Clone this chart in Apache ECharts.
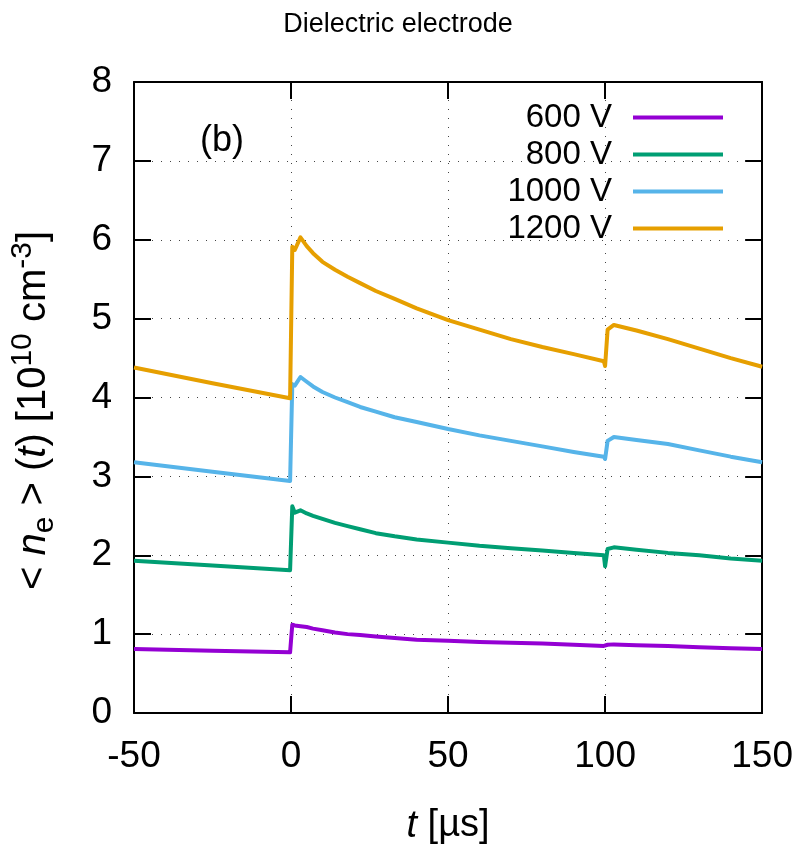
<!DOCTYPE html>
<html>
<head>
<meta charset="utf-8">
<script src="https://cdn.jsdelivr.net/npm/echarts@6/dist/echarts.min.js"></script>
<style>
  html, body { margin: 0; padding: 0; background: #fff; }
  #chart { width: 796px; height: 850px; }
</style>
</head>
<body>
<div id="chart"></div>
<script>
// time axis, in µs
const times = [-50, -25, -0.3, 0.4, 1.2, 3, 5, 7, 10, 14, 18, 22, 27, 33, 40, 50, 60, 70, 80, 90, 99.6, 100, 100.8, 102.8, 110, 120, 130, 140, 150];

// <n_e>(t) in 1e10 cm^-3
const v600  = [0.81, 0.79, 0.77, 1.12, 1.11, 1.10, 1.09, 1.07, 1.05, 1.02, 1.00, 0.99, 0.97, 0.95, 0.93, 0.915, 0.90, 0.89, 0.88, 0.865, 0.85, 0.84, 0.865, 0.87, 0.86, 0.85, 0.835, 0.82, 0.81];
const v800  = [1.93, 1.87, 1.81, 2.62, 2.54, 2.57, 2.53, 2.50, 2.46, 2.41, 2.37, 2.33, 2.28, 2.24, 2.20, 2.16, 2.12, 2.09, 2.06, 2.03, 2.00, 1.86, 2.08, 2.10, 2.07, 2.03, 2.00, 1.96, 1.93];
const v1000 = [3.18, 3.06, 2.94, 4.17, 4.15, 4.26, 4.20, 4.14, 4.07, 4.00, 3.94, 3.88, 3.82, 3.75, 3.69, 3.60, 3.52, 3.45, 3.38, 3.31, 3.25, 3.22, 3.45, 3.50, 3.46, 3.41, 3.33, 3.25, 3.18];
const v1200 = [4.38, 4.18, 3.99, 5.91, 5.87, 6.03, 5.92, 5.83, 5.72, 5.62, 5.53, 5.45, 5.35, 5.25, 5.13, 4.98, 4.86, 4.74, 4.64, 4.55, 4.46, 4.40, 4.86, 4.92, 4.85, 4.74, 4.62, 4.50, 4.39];

const seriesNames = ['600 V', '800 V', '1000 V', '1200 V'];
const seriesColors = ['#9400d3', '#009e73', '#56b4e9', '#e69f00'];
const seriesValues = [v600, v800, v1000, v1200];

const xTicks = [-50, 0, 50, 100, 150];
const yTicks = [0, 1, 2, 3, 4, 5, 6, 7, 8];

const font = 'Liberation Sans';
const tickFs = 37;
const nameFs = 38;
const yNameFs = 40;
const legendFs = 33;
let chart = echarts.init(document.getElementById('chart'), null, {renderer: 'canvas'});

function zip(xs, ys) {
  return xs.map((x, i) => [x, ys[i]]);
}

const gridLine = {
  show: true,
  lineStyle: { color: '#444', width: 1, type: [1, 8] }
};

// one legend per entry so the icons line up on the right
const legendTops = [101, 138, 175, 212];
const legends = seriesNames.map((name, i) => ({
  data: [name],
  orient: 'vertical',
  align: 'right',
  right: 73,
  top: legendTops[i],
  padding: 0,
  icon: 'rect',
  itemWidth: 90,
  itemHeight: 4,
  selectedMode: false,
  textStyle: { fontSize: legendFs, color: '#000', fontFamily: font, padding: [0, 16, 0, 0] }
}));

let option = {
  animation: false,
  backgroundColor: '#fff',
  title: [
    {
      text: 'Dielectric electrode',
      left: 'center',
      top: 6,
      textStyle: { fontSize: 27, fontWeight: 'normal', color: '#000', fontFamily: font }
    },
    {
      text: '(b)',
      left: 195,
      top: 118,
      textStyle: { fontSize: 36, fontWeight: 'normal', color: '#000', fontFamily: font }
    }
  ],
  legend: legends,
  grid: { left: 133, right: 32, top: 82, bottom: 136 },
  xAxis: [
    {
      type: 'value',
      min: xTicks[0],
      max: xTicks[xTicks.length - 1],
      interval: 50,
      position: 'bottom',
      name: '{i|t} [µs]',
      nameLocation: 'middle',
      nameGap: 94,
      nameTextStyle: {
        fontSize: nameFs, color: '#000', fontFamily: font,
        rich: { i: { fontSize: nameFs, fontStyle: 'italic', fontFamily: font, color: '#000' } }
      },
      axisLine: { show: true, onZero: false, lineStyle: { color: '#000', width: 2 } },
      axisTick: { show: true, inside: true, length: 17, lineStyle: { color: '#000', width: 2 } },
      axisLabel: { fontSize: tickFs, color: '#000', fontFamily: font, margin: 25 },
      splitLine: gridLine
    },
    {
      type: 'value',
      min: xTicks[0],
      max: xTicks[xTicks.length - 1],
      interval: 50,
      position: 'top',
      axisLine: { show: true, onZero: false, lineStyle: { color: '#000', width: 2 } },
      axisTick: { show: true, inside: true, length: 17, lineStyle: { color: '#000', width: 2 } },
      axisLabel: { show: false },
      splitLine: { show: false }
    }
  ],
  yAxis: [
    {
      type: 'value',
      min: yTicks[0],
      max: yTicks[yTicks.length - 1],
      interval: 1,
      position: 'left',
      name: '< {i|n}{sub|e} > ({i|t}) [10{sup|10} cm{sup|-3}]',
      nameLocation: 'middle',
      nameRotate: 90,
      nameGap: 74,
      nameTextStyle: {
        fontSize: yNameFs, color: '#000', fontFamily: font, lineHeight: 52,
        padding: [0, 26, 0, 0],
        rich: {
          i: { fontSize: yNameFs, fontStyle: 'italic', fontFamily: font, color: '#000', lineHeight: 52 },
          sub: { fontSize: 30, fontFamily: font, color: '#000', verticalAlign: 'bottom', lineHeight: 52 },
          sup: { fontSize: 30, fontFamily: font, color: '#000', verticalAlign: 'top', lineHeight: 52 }
        }
      },
      axisLine: { show: true, onZero: false, lineStyle: { color: '#000', width: 2 } },
      axisTick: { show: true, inside: true, length: 17, lineStyle: { color: '#000', width: 2 } },
      axisLabel: { fontSize: tickFs, color: '#000', fontFamily: font, margin: 22 },
      splitLine: gridLine
    },
    {
      type: 'value',
      min: yTicks[0],
      max: yTicks[yTicks.length - 1],
      interval: 1,
      position: 'right',
      axisLine: { show: true, onZero: false, lineStyle: { color: '#000', width: 2 } },
      axisTick: { show: true, inside: true, length: 17, lineStyle: { color: '#000', width: 2 } },
      axisLabel: { show: false },
      splitLine: { show: false }
    }
  ],
  series: seriesNames.map((name, i) => ({
    name: name,
    type: 'line',
    xAxisIndex: 0,
    yAxisIndex: 0,
    showSymbol: false,
    symbol: 'none',
    color: seriesColors[i],
    lineStyle: { color: seriesColors[i], width: 4, join: 'round' },
    data: zip(times, seriesValues[i])
  }))
};

option && chart.setOption(option);
</script>
</body>
</html>
